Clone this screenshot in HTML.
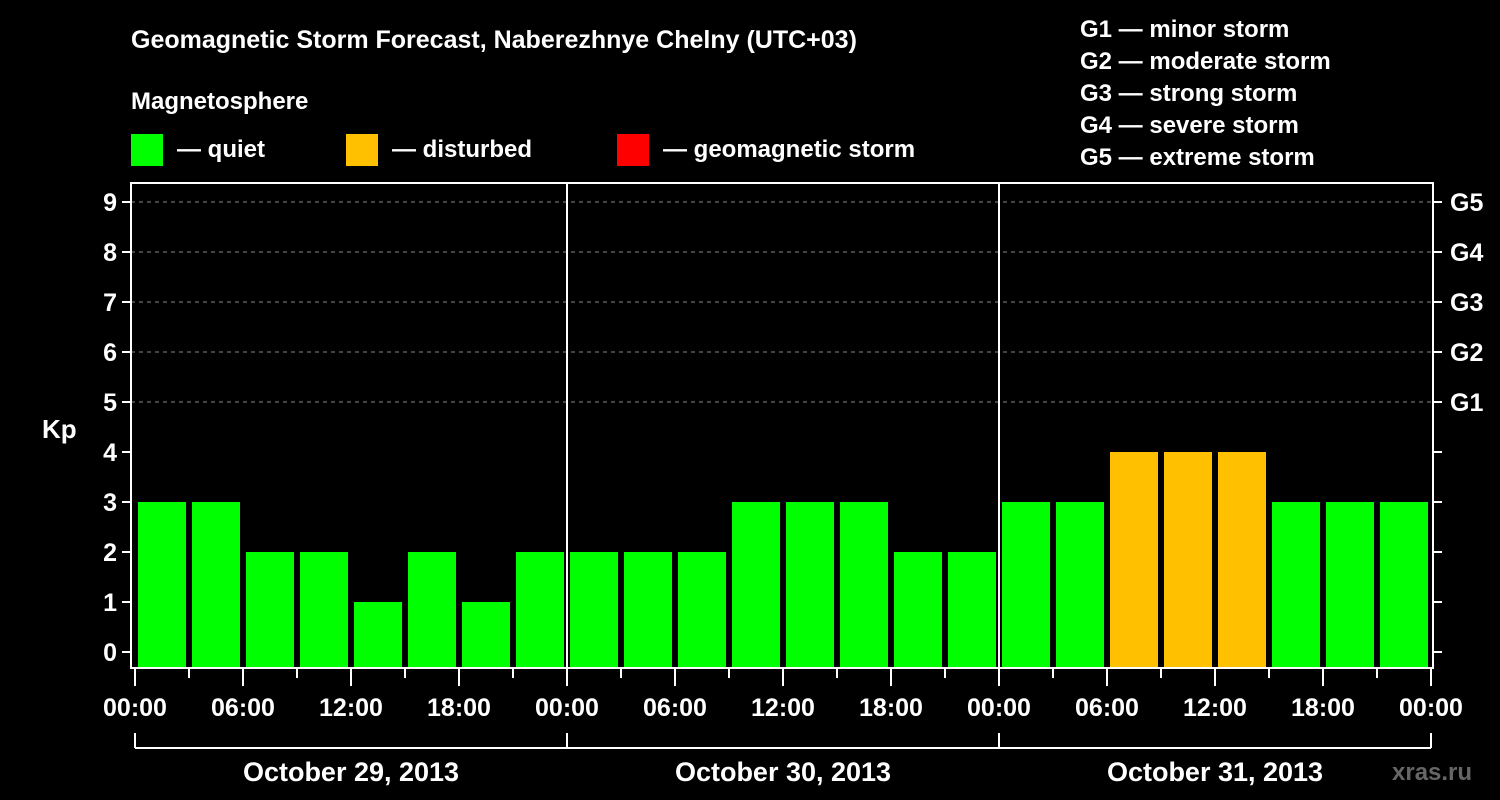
<!DOCTYPE html>
<html><head><meta charset="utf-8"><style>
html,body{margin:0;padding:0;background:#000;}
svg{display:block;font-family:"Liberation Sans",Arial,sans-serif;font-weight:bold;}
</style></head><body>
<svg id="c" width="1500" height="800" viewBox="0 0 1500 800">
<rect width="1500" height="800" fill="#000"/>
<text x="131" y="48" fill="#fff" font-size="25">Geomagnetic Storm Forecast, Naberezhnye Chelny (UTC+03)</text>
<text x="131" y="109" fill="#fff" font-size="24">Magnetosphere</text>
<g><rect x="131" y="134" width="32" height="32" fill="#00ff00"/><text x="177" y="157" fill="#fff" font-size="24">— quiet</text></g>
<g><rect x="346" y="134" width="32" height="32" fill="#ffc000"/><text x="392" y="157" fill="#fff" font-size="24">— disturbed</text></g>
<g><rect x="617" y="134" width="32" height="32" fill="#ff0000"/><text x="663" y="157" fill="#fff" font-size="24">— geomagnetic storm</text></g>
<g fill="#fff" font-size="24">
<text x="1080" y="37">G1 — minor storm</text>
<text x="1080" y="69">G2 — moderate storm</text>
<text x="1080" y="101">G3 — strong storm</text>
<text x="1080" y="133">G4 — severe storm</text>
<text x="1080" y="165">G5 — extreme storm</text>
</g>
<text x="42" y="438" fill="#fff" font-size="26">Kp</text>
<text x="1392" y="780" fill="#666" font-size="24">xras.ru</text>
<g id="grid"></g><g id="bars"></g><g id="axes"></g>
</svg>
<script>
const dayLabels = ["October 29, 2013","October 30, 2013","October 31, 2013"];
const kpValues = [3,3,2,2,1,2,1,2, 2,2,2,3,3,3,2,2, 3,3,4,4,4,3,3,3];
const yTicks = [0,1,2,3,4,5,6,7,8,9];
const gLabels = ["G1","G2","G3","G4","G5"];
const hourLabels = ["00:00","06:00","12:00","18:00"];

const NS="http://www.w3.org/2000/svg";
const L=131,R=1433,T=183,B=668,X0=135,DAY=432;
const y=v=>652-50*v;
const x=h=>X0+h*DAY/24;
function mk(tag,attrs,parent,txt){const e=document.createElementNS(NS,tag);for(const k in attrs)e.setAttribute(k,attrs[k]);if(txt!==undefined)e.textContent=txt;parent.appendChild(e);return e;}
const grid=document.getElementById('grid'),bars=document.getElementById('bars'),axes=document.getElementById('axes');
[5,6,7,8,9].forEach(v=>{const l=mk('line',{x1:L,x2:R,y1:y(v),y2:y(v),stroke:'#888','stroke-dasharray':'4,4','stroke-width':1},grid);

});
kpValues.forEach((v,i)=>{const col=v>=5?'#ff0000':(v>=4?'#ffc000':'#00ff00');
const r=mk('rect',{x:x(i*3)+3,y:y(v),width:48,height:B-y(v),fill:col},bars);

});
// day separators
for(let d=1;d<dayLabels.length;d++){const l=mk('line',{x1:x(24*d),x2:x(24*d),y1:T,y2:B,stroke:'#fff','stroke-width':2},axes);

}
const fr=mk('rect',{x:L,y:T,width:R-L,height:B-T,fill:'none',stroke:'#fff','stroke-width':2},axes);


yTicks.forEach(v=>{mk('line',{x1:L-9,x2:L,y1:y(v),y2:y(v),stroke:'#fff','stroke-width':2},axes);
mk('line',{x1:R,x2:R+9,y1:y(v),y2:y(v),stroke:'#fff','stroke-width':2},axes);
const t=mk('text',{x:L-14,y:y(v)+9,fill:'#fff','font-size':25,'text-anchor':'end'},axes,String(v));

});
gLabels.forEach((g,i)=>{const t=mk('text',{x:1450,y:y(5+i)+9,fill:'#fff','font-size':25},axes,g);

});
for(let h=0;h<=24*dayLabels.length;h+=3){const major=h%6===0;
mk('line',{x1:x(h),x2:x(h),y1:B,y2:major?686:678,stroke:'#fff','stroke-width':2},axes);
if(major){const t=mk('text',{x:x(h),y:716,fill:'#fff','font-size':25,'text-anchor':'middle'},axes,hourLabels[(h/6)%4]);

}}
mk('line',{x1:x(0),x2:x(24*dayLabels.length),y1:748,y2:748,stroke:'#fff','stroke-width':2},axes);
for(let d=0;d<=dayLabels.length;d++)mk('line',{x1:x(24*d),x2:x(24*d),y1:733,y2:748,stroke:'#fff','stroke-width':2},axes);
dayLabels.forEach((s,d)=>{const t=mk('text',{x:x(24*d+12),y:781,fill:'#fff','font-size':27,'text-anchor':'middle'},axes,s);

});
</script>
</body></html>
